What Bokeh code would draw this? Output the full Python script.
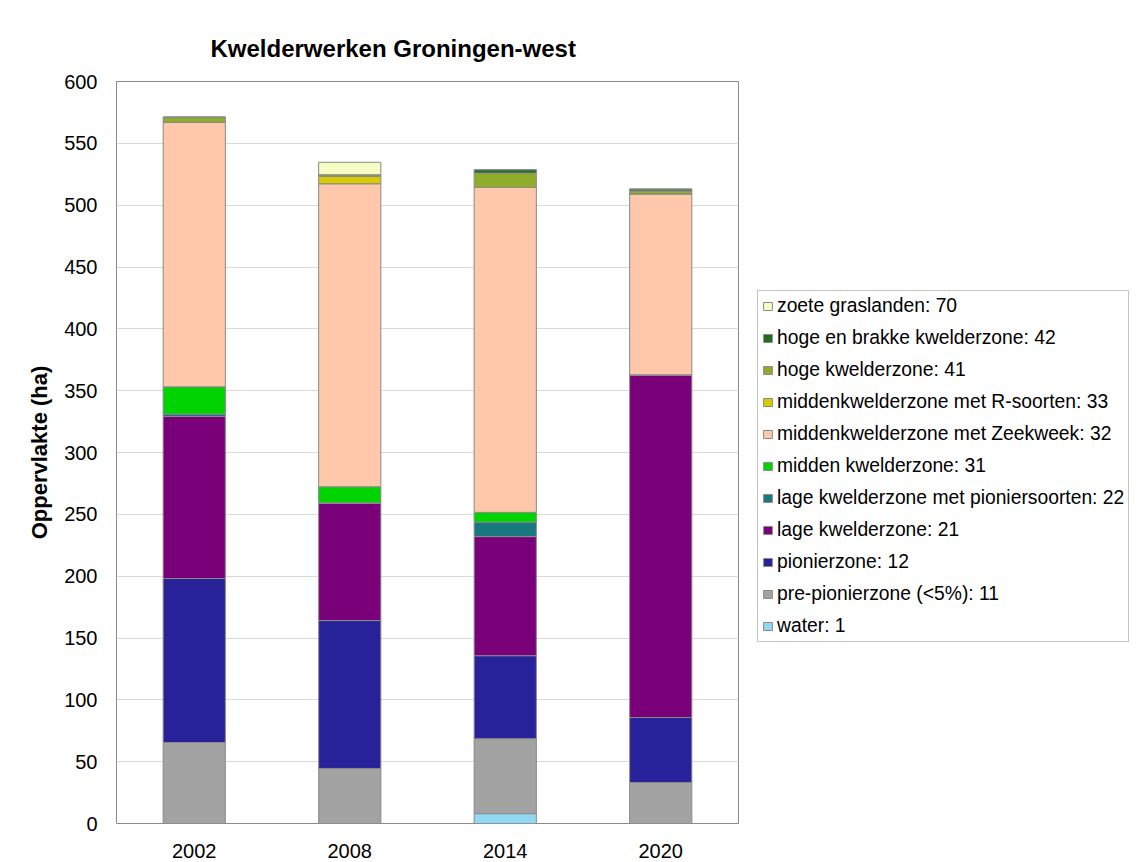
from bokeh.plotting import figure
from bokeh.layouts import row
from bokeh.models import FactorRange, Range1d, Legend, LegendItem, SingleIntervalTicker, Title, ColumnDataSource
from bokeh.embed import file_html
from bokeh.resources import INLINE

years = ["2002", "2008", "2014", "2020"]

water = [0, 0, 8.0, 0]
pre_pionier = [65.5, 44.5, 60.6, 33.2]
pionier = [132.6, 119.6, 67.1, 52.5]
lage = [131.0, 94.7, 96.3, 276.6]
lage_pionier = [2.0, 0.5, 11.7, 0.5]
midden = [22.0, 13.0, 7.9, 0]
zeekweek = [214.0, 245.0, 262.7, 146.3]
r_soorten = [0, 5.9, 0, 0]
hoge = [4.0, 1.4, 11.7, 2.4]
hoge_brak = [0, 0, 2.7, 1.5]
zoete = [0, 10.1, 0, 0]

series_keys = ["water", "pre", "pion", "lage", "lagep", "midden", "zeekweek", "rsoort", "hoge", "hogeb", "zoete"]
series_vals = [water, pre_pionier, pionier, lage, lage_pionier, midden, zeekweek, r_soorten, hoge, hoge_brak, zoete]
series_labels = [
    "water: 1",
    "pre-pionierzone (<5%): 11",
    "pionierzone: 12",
    "lage kwelderzone: 21",
    "lage kwelderzone met pioniersoorten: 22",
    "midden kwelderzone: 31",
    "middenkwelderzone met Zeekweek: 32",
    "middenkwelderzone met R-soorten: 33",
    "hoge kwelderzone: 41",
    "hoge en brakke kwelderzone: 42",
    "zoete graslanden: 70",
]
colors = ["#92d8f2", "#a3a3a3", "#27229a", "#7a007a", "#17787e", "#00d400",
          "#ffc8aa", "#d8cc00", "#8fac2a", "#1f6b1f", "#f3fdc4"]

data = {"year": years}
for k, v in zip(series_keys, series_vals):
    data[k] = v

FONT = "Liberation Sans"
EDGE = "#8a8a8a"

p = figure(x_range=FactorRange(*years), y_range=Range1d(0, 600),
           width=740, height=862, output_backend="svg", toolbar_location=None,
           min_border_left=116, min_border_right=2, min_border_top=81, min_border_bottom=39)

renderers = p.vbar_stack(series_keys, x="year", width=0.4, source=data,
                         fill_color=colors, line_color=EDGE, line_width=1)

p.title = Title(text="Kwelderwerken Groningen-west", align="left", offset=94,
                text_font=FONT, text_font_size="24px", text_font_style="bold",
                text_color="#000000", standoff=40)

p.outline_line_color = EDGE
p.outline_line_width = 1
p.background_fill_color = "white"
p.border_fill_color = "white"

p.xgrid.grid_line_color = None
p.ygrid.grid_line_color = "#d9d9d9"
p.yaxis.ticker = SingleIntervalTicker(interval=50)

for ax in (p.xaxis, p.yaxis):
    ax.axis_line_color = None
    ax.major_tick_line_color = None
    ax.minor_tick_line_color = None
    ax.major_label_text_font = FONT
    ax.major_label_text_font_size = "20px"
    ax.major_label_text_color = "#000000"

p.yaxis.major_label_standoff = 13
p.xaxis.major_label_standoff = 14
p.yaxis.axis_label = "Oppervlakte (ha)"
p.yaxis.axis_label_text_font = FONT
p.yaxis.axis_label_text_font_size = "22px"
p.yaxis.axis_label_text_font_style = "bold"
p.yaxis.axis_label_text_color = "#000000"
p.yaxis.axis_label_standoff = 9

# Legend lives in a companion figure placed to the right of the chart
q = figure(width=398, height=862, output_backend="svg", toolbar_location=None,
           x_axis_type=None, y_axis_type=None, x_range=Range1d(0, 1), y_range=Range1d(0, 1),
           min_border=0, min_border_left=0, min_border_right=0, min_border_top=0, min_border_bottom=0)
q.outline_line_color = None
q.xgrid.grid_line_color = None
q.ygrid.grid_line_color = None
q.background_fill_color = "white"
q.border_fill_color = "white"

offscreen = ColumnDataSource(data=dict(x=[5.0], top=[5.0]))
dummies = [q.vbar(x="x", top="top", bottom=4.0, width=0.1, source=offscreen,
                  fill_color=c, line_color=EDGE, line_width=1)
           for c in colors]

items = [LegendItem(label=lbl, renderers=[r]) for lbl, r in zip(series_labels, dummies)]
items = items[::-1]
legend = Legend(items=items, location=(17, 181), orientation="vertical",
                label_text_font=FONT, label_text_font_size="19.3px", label_text_color="#000000",
                glyph_width=11, glyph_height=10, label_standoff=4, label_height=22,
                spacing=10, padding=4, margin=0,
                border_line_color=EDGE, border_line_width=1,
                background_fill_color="white", background_fill_alpha=1.0)
q.add_layout(legend, "center")

layout = row(p, q, spacing=0)

open("out.html", "w").write(file_html(layout, INLINE))
